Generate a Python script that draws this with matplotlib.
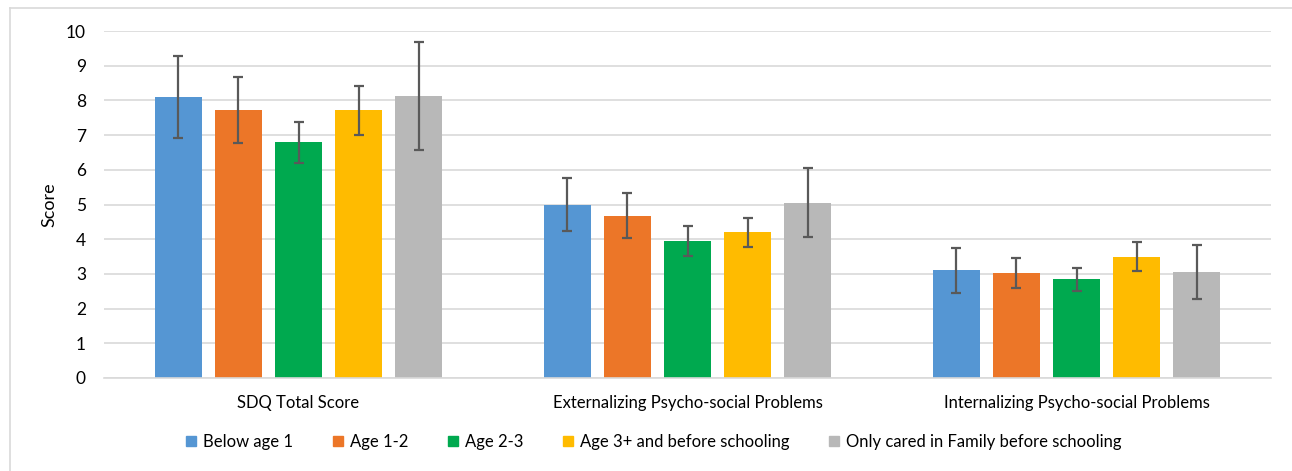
import matplotlib
matplotlib.use("Agg")
import matplotlib.pyplot as plt
import numpy as np
from matplotlib.lines import Line2D

categories = ["SDQ Total Score", "Externalizing Psycho-social Problems", "Internalizing Psycho-social Problems"]
series_names = ["Below age 1", "Age 1-2", "Age 2-3", "Age 3+ and before schooling",
                "Only cared in Family before schooling"]
colors = ["#5596D3", "#EC7628", "#00A94F", "#FFBB00", "#B8B8B8"]

below_age1 = [8.10, 4.99, 3.10]
age_1_2 = [7.72, 4.68, 3.03]
age_2_3 = [6.80, 3.95, 2.84]
age_3plus = [7.71, 4.20, 3.49]
family_only = [8.13, 5.05, 3.05]

below_age1_err = [1.18, 0.76, 0.65]
age_1_2_err = [0.95, 0.64, 0.44]
age_2_3_err = [0.59, 0.43, 0.33]
age_3plus_err = [0.71, 0.42, 0.42]
family_only_err = [1.56, 0.99, 0.78]

values = [below_age1, age_1_2, age_2_3, age_3plus, family_only]
errors = [below_age1_err, age_1_2_err, age_2_3_err, age_3plus_err, family_only_err]

plt.rcParams['font.family'] = ['Lato', 'DejaVu Sans']

fig = plt.figure(figsize=(12.92, 4.71), dpi=100)
ax = fig.add_axes([104/1292, 1 - 378/471, (1271-104)/1292, (378-31)/471])

x = np.arange(len(categories))
pitch = 0.1545
width = 0.121
for i, (vals, errs) in enumerate(zip(values, errors)):
    pos = x + (i - 2) * pitch
    ax.bar(pos, vals, width=width, color=colors[i], zorder=2, label=series_names[i])
    ax.errorbar(pos, vals, yerr=errs, fmt='none', ecolor='#595959', elinewidth=1.6,
                capsize=3.8, capthick=1.6, zorder=3)

ax.set_xlim(-0.5, 2.5)
ax.set_ylim(0, 10)
ax.set_yticks(range(0, 11))
ax.yaxis.grid(True, color='#d9d9d9', linewidth=1.2, zorder=0)
ax.set_axisbelow(True)
for s in ['top', 'right', 'left']:
    ax.spines[s].set_visible(False)
ax.spines['bottom'].set_color('#d9d9d9')
ax.spines['bottom'].set_linewidth(1.2)
ax.tick_params(axis='y', length=0, labelsize=12.5, colors='#000000', pad=13)
ax.tick_params(axis='x', length=0, labelsize=12, colors='#000000', pad=12)
ax.set_xticks(x)
ax.set_xticklabels(categories, fontsize=12)
ax.set_ylabel("Score", fontsize=13)
ax.yaxis.set_label_coords(-(104 - 48) / 1167 + 0.008, 0.5)

handles = [plt.Rectangle((0, 0), 1, 1, color=c) for c in colors]
fig.legend(handles, series_names, loc='center', bbox_to_anchor=(654/1292, 1 - 442/471),
           ncol=5, frameon=False, fontsize=12, handlelength=0.6, handleheight=0.6,
           columnspacing=2.4, handletextpad=0.4)

# outer chart frame
fig.add_artist(Line2D([10/1292, 10/1292], [0, 1 - 8/471], color='#d9d9d9', linewidth=1.2,
                      transform=fig.transFigure))
fig.add_artist(Line2D([10/1292, 1], [1 - 8/471, 1 - 8/471], color='#d9d9d9', linewidth=1.2,
                      transform=fig.transFigure))

fig.savefig("out.png", dpi=100)
